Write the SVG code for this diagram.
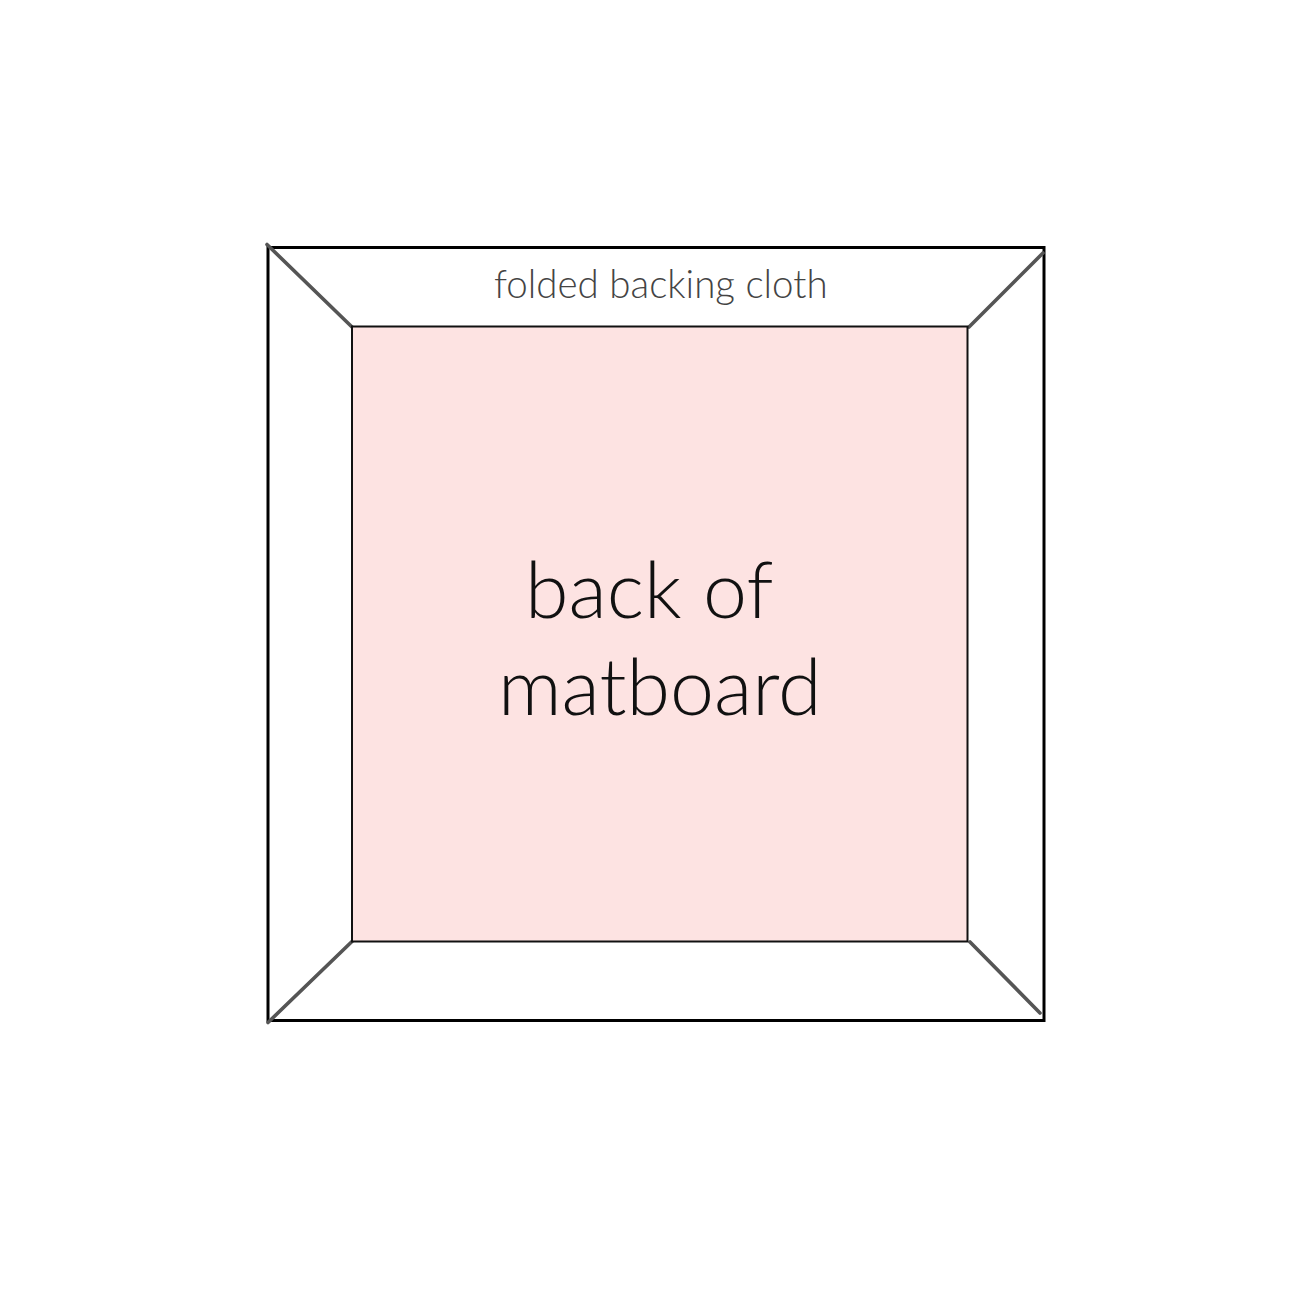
<svg xmlns="http://www.w3.org/2000/svg" width="1300" height="1300" viewBox="0 0 1300 1300">
<style>
.outer{fill:#ffffff;stroke:#000000;stroke-width:3}
.inner{fill:#fde3e2;stroke:#111111;stroke-width:2}
.diag{stroke:#555555;stroke-width:3.6;stroke-linecap:round}
.label{font-family:Lato,"Open Sans","Liberation Sans",sans-serif;font-weight:300}
</style>
<rect width="1300" height="1300" fill="#ffffff"/>
<g id="frame">
<rect class="outer" x="268" y="247.5" width="776" height="773"/>
</g>
<g id="connectors">
<line class="diag" x1="267" y1="244.5" x2="352" y2="327"/>
<line class="diag" x1="1043" y1="253" x2="969" y2="327"/>
<line class="diag" x1="268" y1="1022.5" x2="352.5" y2="941"/>
<line class="diag" x1="970" y1="942" x2="1040" y2="1013"/>
</g>
<g id="matboard">
<rect class="inner" x="352" y="326.5" width="615.5" height="615"/>
<text class="label" x="525" y="618" font-size="79" fill="#111111">back of</text>
<text class="label" x="498" y="715" font-size="79" fill="#111111">matboard</text>
</g>
<g id="cloth">
<text class="label" x="494" y="298" font-size="38.5" fill="#444444">folded backing cloth</text>
</g>
</svg>
